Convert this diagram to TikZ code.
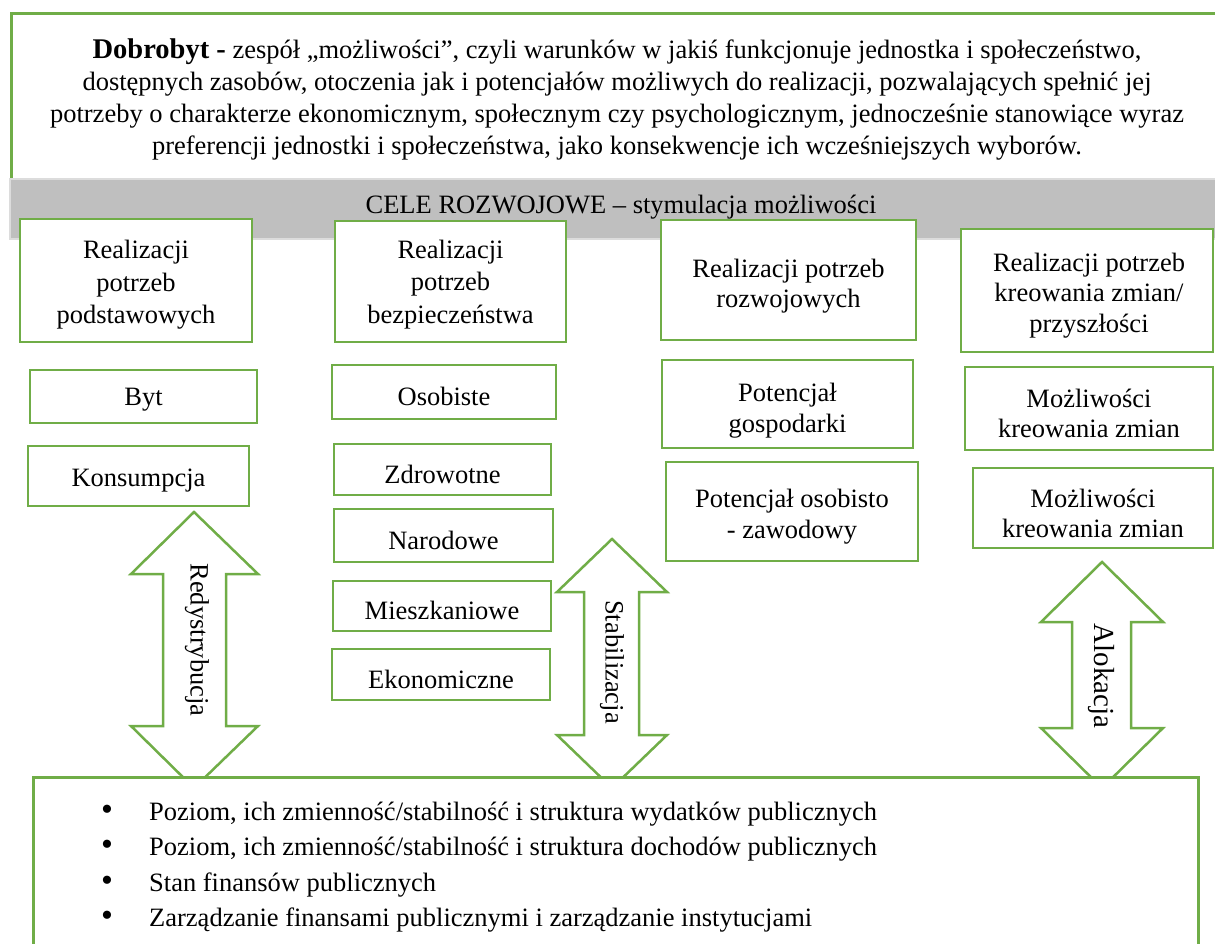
\documentclass[tikz,border=0pt]{standalone}
\usepackage{fontspec}
\setmainfont{Liberation Serif}
\definecolor{grn}{HTML}{70AD47}
\definecolor{bandgray}{HTML}{BFBFBF}
\definecolor{bandedge}{HTML}{DCDCDC}
\newcommand\fsz{\fontsize{26.5}{30.5}\selectfont}
\newcommand\fszw{\fontsize{26.5}{32.5}\selectfont}
\newcommand\bul{\makebox[48pt][l]{\fontsize{34}{34}\selectfont •}}
\begin{document}
\begin{tikzpicture}[x=1pt,y=-1pt,
  gbox/.style={draw=grn, line width=2.5pt, fill=white, inner sep=0pt},
  blockarrow/.style={draw=grn, line width=2.5pt, fill=white, line join=miter},
  txt/.style={inner sep=0pt, align=center, font=\fsz},
  wtxt/.style={inner sep=0pt, align=center, font=\fszw},
  listline/.style={inner sep=0pt, anchor=base west, font=\fontsize{26.5}{35.5}\selectfont}
]
\useasboundingbox (0,0) rectangle (1215,943);
\clip (0,0) rectangle (1215,943);

% top definition box
\node[gbox, anchor=north west, minimum width=1240pt, minimum height=200pt] (topbox) at (10,12) {};
\node[txt, font=\fontsize{26.5}{32}\selectfont] (def) at (617,99)
 {{\fontsize{28.5}{32}\selectfont\bfseries Dobrobyt -} zespół „możliwości”, czyli warunków w jakiś funkcjonuje jednostka i społeczeństwo,\\
  dostępnych zasobów, otoczenia jak i potencjałów możliwych do realizacji, pozwalających spełnić jej\\
  potrzeby o charakterze ekonomicznym, społecznym czy psychologicznym, jednocześnie stanowiące wyraz\\
  preferencji jednostki i społeczeństwa, jako konsekwencje ich wcześniejszych wyborów.};

% grey band
\node[fill=bandgray, draw=bandedge, line width=2pt, inner sep=0pt, anchor=north west,
      minimum width=1230pt, minimum height=60pt] (band) at (9,178) {};
\node[txt, anchor=base] (cele) at (621,213) {CELE ROZWOJOWE – stymulacja możliwości};

% column headers
\node[gbox, minimum width=232pt, minimum height=123pt] (h1) at (136,280.5) {};
\node[wtxt] (h1t) at (136,285) {Realizacji\\potrzeb\\podstawowych};
\node[gbox, minimum width=231pt, minimum height=121pt] (h2) at (450.5,281.5) {};
\node[wtxt] (h2t) at (450.5,284.5) {Realizacji\\potrzeb\\bezpieczeństwa};
\node[gbox, minimum width=255pt, minimum height=120pt] (h3) at (788.5,280) {};
\node[txt] (h3t) at (788.5,286) {Realizacji potrzeb\\rozwojowych};
\node[gbox, minimum width=252pt, minimum height=123pt] (h4) at (1087,290.5) {};
\node[txt] (h4t) at (1089,295.5) {Realizacji potrzeb\\kreowania zmian/\\przyszłości};

% column 1
\node[gbox, minimum width=227pt, minimum height=53pt] (byt) at (143.5,396.5) {};
\node[txt] (bytt) at (143.5,400) {Byt};
\node[gbox, minimum width=221pt, minimum height=60pt] (kons) at (138.5,476) {};
\node[txt] (konst) at (138.5,480.5) {Konsumpcja};

% column 2
\node[gbox, minimum width=224pt, minimum height=54pt] (osob) at (444,392) {};
\node[txt] (osobt) at (444,396) {Osobiste};
\node[gbox, minimum width=217pt, minimum height=51pt] (zdr) at (442.5,469.5) {};
\node[txt] (zdrt) at (442.5,474.5) {Zdrowotne};
\node[gbox, minimum width=219pt, minimum height=53pt] (nar) at (443.5,535.5) {};
\node[txt] (nart) at (443.5,540) {Narodowe};
\node[gbox, minimum width=218pt, minimum height=50pt] (mie) at (442,606) {};
\node[txt] (miet) at (442,610.5) {Mieszkaniowe};
\node[gbox, minimum width=218pt, minimum height=51pt] (eko) at (441,674.5) {};
\node[txt] (ekot) at (441,679.5) {Ekonomiczne};

% column 3
\node[gbox, minimum width=251pt, minimum height=88pt] (pg) at (787.5,404) {};
\node[txt] (pgt) at (787.5,410.5) {Potencjał\\gospodarki};
\node[gbox, minimum width=252pt, minimum height=99pt] (po) at (792,511.5) {};
\node[txt] (pot) at (792,516.5) {Potencjał osobisto\\- zawodowy};

% column 4
\node[gbox, minimum width=248pt, minimum height=83pt] (mk1) at (1089,408.5) {};
\node[txt] (mk1t) at (1089,413.5) {Możliwości\\kreowania zmian};
\node[gbox, minimum width=240pt, minimum height=80pt] (mk2) at (1093,508) {};
\node[txt] (mk2t) at (1093,513.5) {Możliwości\\kreowania zmian};

% block arrows
\draw[blockarrow] (194,512) -- (258,574) -- (226,574) -- (226,726) -- (258,726) -- (194,788)
  -- (131,726) -- (163,726) -- (163,574) -- (131,574) -- cycle;
\node[txt, rotate=-90] (redys) at (197,640) {Redystrybucja};

\draw[blockarrow] (612,539) -- (667,592) -- (639,592) -- (639,735) -- (667,735) -- (612,788)
  -- (557,735) -- (584,735) -- (584,592) -- (557,592) -- cycle;
\node[txt, rotate=-90] (stab) at (612,662) {Stabilizacja};

\draw[blockarrow] (1102,562) -- (1163,622) -- (1131,622) -- (1131,728) -- (1163,728) -- (1102,788)
  -- (1041,728) -- (1072,728) -- (1072,622) -- (1041,622) -- cycle;
\node[txt, rotate=-90, font=\fontsize{29}{32}\selectfont] (alok) at (1101,676) {Alokacja};

% bottom box
\node[gbox, anchor=north west, minimum width=1165pt, minimum height=250pt] (bottom) at (32,776) {};
\node[listline] (l1) at (101,820) {\bul Poziom, ich zmienność/stabilność i struktura wydatków publicznych};
\node[listline] (l2) at (101,855.5) {\bul Poziom, ich zmienność/stabilność i struktura dochodów publicznych};
\node[listline] (l3) at (101,891) {\bul Stan finansów publicznych};
\node[listline] (l4) at (101,926.5) {\bul Zarządzanie finansami publicznymi i zarządzanie instytucjami};
\end{tikzpicture}
\end{document}
